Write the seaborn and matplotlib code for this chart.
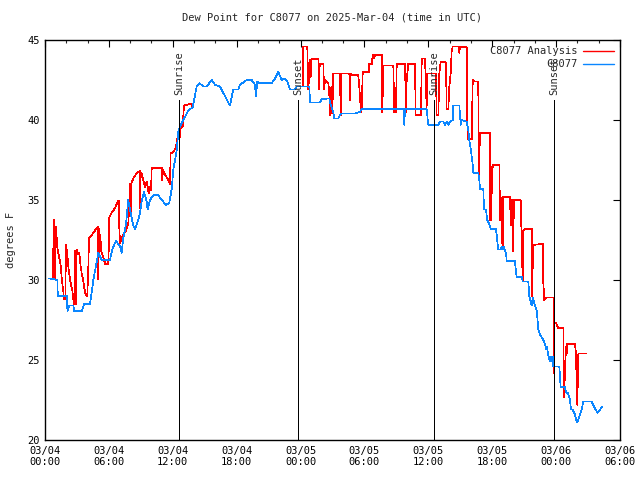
import matplotlib
matplotlib.use("Agg")
import matplotlib.pyplot as plt
import seaborn as sns
import pandas as pd

# ---------------- data (hours since 03/04 00:00 UTC, deg F) ----------------
obs_hours = [0.40, 1.16, 1.20, 2.04, 2.11, 2.28, 2.66, 2.75, 3.45, 3.69, 4.23, 4.54, 4.79, 5.01,
             5.32, 6.10, 6.36, 6.67, 7.04, 7.20, 7.35, 7.61, 7.82, 7.98, 8.29, 8.45, 8.76, 8.92,
             9.08, 9.30, 9.55, 9.64, 9.86, 10.17, 10.64, 10.96, 11.36, 11.67, 11.90, 12.05, 12.21,
             12.37, 12.52, 12.68, 12.99, 13.46, 13.87, 14.25, 14.49, 14.87, 15.19, 15.65, 15.97,
             16.43, 17.37, 17.68, 18.15, 18.31, 18.94, 19.41, 19.72, 19.81, 19.94, 20.12, 21.29,
             21.60, 21.91, 22.23, 22.54, 22.75, 23.01, 23.48, 23.64, 24.82, 24.89, 25.82, 25.98,
             26.70, 26.76, 27.07, 27.17, 27.54, 27.70, 27.86, 29.11, 29.58, 29.74, 33.65, 33.74,
             33.81, 35.84, 35.99, 36.93, 37.09, 37.40, 37.56, 37.72, 37.87, 38.03, 38.29, 38.34,
             38.91, 38.97, 39.04, 39.13, 39.60, 39.75, 39.85, 39.98, 40.07, 40.17, 40.22, 40.69,
             40.79, 40.85, 41.16, 41.23, 41.42, 41.48, 41.54, 41.73, 41.86, 42.33, 42.42, 42.51,
             42.57, 42.80, 42.89, 43.01, 43.10, 43.20, 43.29, 43.36, 44.14, 44.20, 44.30, 44.77,
             44.86, 45.39, 45.48, 45.61, 45.71, 45.80, 46.02, 46.18, 46.33, 46.49, 46.80, 46.96,
             47.05, 47.14, 47.26, 47.42, 47.49, 47.61, 47.68, 47.73, 48.30, 48.36, 48.43, 48.83,
             48.93, 49.14, 49.30, 49.40, 49.56, 49.77, 49.93, 50.08, 50.24, 50.40, 50.55, 51.34,
             51.56, 51.87, 52.12, 52.37]
obs_values = [30.1, 30.0, 29.0, 29.0, 28.06, 28.4, 28.4, 28.06, 28.06, 28.5, 28.5, 30.0, 30.9, 31.7,
              31.25, 31.25, 32.0, 32.45, 32.1, 31.7, 32.6, 33.5, 35.0, 34.4, 33.4, 33.2, 33.75, 34.2,
              34.9, 35.5, 34.9, 34.4, 35.0, 35.3, 35.3, 35.0, 34.7, 34.8, 35.7, 36.9, 37.5,
              38.1, 39.3, 39.6, 40.0, 40.6, 40.8, 42.1, 42.3, 42.1, 42.1, 42.5, 42.2,
              42.1, 40.9, 41.9, 41.9, 42.2, 42.5, 42.5, 42.2, 41.5, 42.4, 42.3, 42.3,
              42.6, 43.0, 42.5, 42.6, 42.4, 41.9, 41.9, 42.1, 42.1, 41.1, 41.1, 41.3,
              41.35, 41.1, 40.5, 40.1, 40.1, 40.3, 40.4, 40.4, 40.5, 40.7, 40.7, 39.7,
              40.7, 40.7, 39.7, 39.7, 39.9, 39.9, 39.7, 39.9, 39.7, 39.9, 40.0, 40.9,
              40.9, 40.3, 39.7, 40.0, 39.9, 39.4, 38.75, 38.2, 37.7, 37.2, 36.7, 36.7,
              36.25, 35.7, 35.7, 34.4, 34.4, 34.0, 33.75, 33.5, 33.2, 33.2, 32.8, 32.2,
              31.9, 31.9, 32.1, 31.9, 32.1, 31.8, 31.7, 31.2, 31.2, 30.7, 30.2, 30.2,
              29.9, 29.9, 29.0, 28.6, 28.4, 28.9, 28.4, 28.1, 26.9, 26.6, 26.25, 26.0,
              25.7, 25.85, 25.3, 24.9, 25.2, 24.95, 25.2, 24.6, 24.6, 23.95, 23.3, 23.3,
              23.0, 22.9, 22.5, 21.9, 21.9, 21.6, 21.1, 21.25, 21.6, 21.9, 22.4, 22.4,
              22.1, 21.7, 21.9, 22.1]

ana_hours = [0.72, 0.78, 0.78, 0.87, 0.94, 1.03, 1.16, 1.31, 1.47, 1.60, 1.72, 1.78, 1.91, 1.97,
             2.09, 2.23, 2.35, 2.47, 2.56, 2.66, 2.75, 2.82, 2.88, 2.98, 3.13, 3.22, 3.32, 3.45,
             3.57, 3.69, 3.82, 3.97, 4.07, 4.13, 4.39, 4.70, 4.91, 4.98, 5.01, 5.07, 5.10, 5.19,
             5.29, 5.48, 5.66, 5.94, 6.01, 6.04, 6.26, 6.57, 6.88, 6.95, 6.96, 7.04, 7.20, 7.42,
             7.61, 7.82, 7.92, 7.98, 8.05, 8.10, 8.29, 8.61, 8.86, 8.92, 8.94, 8.99, 9.08, 9.23,
             9.39, 9.55, 9.70, 9.73, 9.86, 9.96, 10.02, 10.96, 11.02, 11.08, 11.27, 11.58, 11.74,
             11.80, 12.05, 12.21, 12.30, 12.42, 12.68, 12.74, 12.93, 12.99, 13.05, 13.55, 13.78,
             13.87, 14.25, 14.49, 14.87, 15.19, 15.65, 15.97, 16.43, 17.37, 17.68, 18.15, 18.31,
             18.94, 19.41, 19.72, 19.81, 19.94, 20.12, 21.29, 21.60, 21.91, 22.23, 22.54, 22.75,
             23.01, 23.48, 23.64, 24.20,
             24.26, 24.63, 24.73, 24.82, 24.89, 24.95, 25.01, 25.67, 25.73, 25.80, 26.14, 26.20,
             26.30, 26.61, 26.70, 26.77, 26.83, 26.93, 26.98, 27.08, 27.70, 27.77, 27.86, 28.58,
             28.64, 28.71, 28.90, 29.42, 29.49, 29.65, 29.68, 29.74, 29.84, 30.43, 30.46, 30.68,
             30.78, 30.90, 30.99, 31.62, 31.68, 31.77, 32.71, 32.80, 32.96, 33.03, 33.81, 33.90,
             33.97, 34.03, 34.12, 34.75, 34.81, 35.31, 35.38, 35.69, 35.78, 35.84, 35.90, 36.72,
             36.78, 36.94, 37.03, 37.16, 37.66, 37.72, 37.88, 37.97, 38.10, 38.19, 38.29, 38.81,
             38.91, 38.97, 39.60, 39.66, 39.75, 40.07, 40.17, 40.38, 40.69, 40.74, 40.79, 40.85,
             41.79, 41.82, 41.86, 41.89, 41.95, 42.05, 42.67, 42.73, 42.79, 42.89, 42.98, 43.04,
             43.67, 43.74, 43.83, 43.89, 43.95, 44.05, 44.67, 44.77, 44.86, 44.92, 45.08, 45.71,
             45.74, 45.80, 45.86, 46.74, 46.80, 46.89, 47.05, 47.74, 47.80, 47.83, 47.99, 48.21,
             48.68, 48.74, 48.84, 48.93, 48.99, 49.05, 49.77, 49.86, 49.99, 50.09, 50.87]
ana_values = [30.05, 30.05, 31.9, 33.75, 30.05, 33.3, 32.0, 31.5, 30.9, 29.9, 29.3, 28.8, 28.8, 32.2,
              31.6, 30.6, 30.05, 29.6, 29.4, 28.8, 28.5, 31.8, 28.5, 31.9, 31.6, 31.7, 31.0, 30.4,
              30.05, 29.5, 29.05, 29.0, 30.8, 32.6, 32.8, 33.1, 33.3, 33.3, 30.05, 33.2, 31.8, 32.8,
              31.8, 31.4, 31.0, 31.0, 32.4, 33.9, 34.2, 34.5, 34.95, 34.95, 33.6, 32.3, 32.6, 32.9,
              33.1, 33.5, 34.7, 36.0, 34.1, 36.0, 36.35, 36.67, 36.8, 36.8, 34.5, 36.67, 36.67, 36.25,
              35.8, 36.15, 35.6, 35.4, 35.8, 35.6, 37.0, 37.0, 36.25, 36.9, 36.6, 36.25, 36.0,
              37.9, 38.0, 38.2, 38.3, 38.85, 38.95, 39.5, 39.6, 40.3, 40.9, 41.0, 41.0,
              40.8, 42.1, 42.3, 42.1, 42.1, 42.5, 42.2, 42.1, 40.9, 41.9, 41.9, 42.2,
              42.5, 42.5, 42.2, 41.5, 42.4, 42.3, 42.3, 42.6, 43.0, 42.5, 42.6, 42.4,
              41.9, 41.9, 42.1, 42.1,
              44.6, 44.6, 41.9, 42.9, 43.75, 42.7, 43.8, 43.8, 41.9, 43.5, 43.5, 41.9,
              42.5, 42.3, 41.6, 40.3, 41.9, 42.1, 40.4, 42.9, 42.9, 40.3, 42.9, 42.9,
              41.25, 42.9, 42.8, 42.8, 42.3, 40.8, 40.5, 40.7, 43.0, 43.0, 43.5, 43.5,
              44.06, 43.85, 44.06, 44.06, 40.5, 43.4, 43.4, 40.5, 40.5, 43.5, 43.5, 40.5,
              42.6, 42.9, 43.5, 43.5, 40.3, 40.3, 43.85, 43.85, 41.9, 40.8, 42.9, 42.9,
              40.3, 40.3, 42.9, 43.65, 43.6, 40.7, 40.7, 42.1, 42.9, 44.27, 44.6, 44.6,
              44.2, 44.55, 44.55, 39.9, 38.8, 38.8, 42.5, 42.4, 42.4, 36.25, 37.5, 39.2,
              39.2, 33.75, 37.1, 33.75, 35.5, 37.2, 37.2, 33.75, 35.2, 33.1, 31.9, 35.2,
              35.2, 33.44, 33.44, 35.0, 31.8, 35.0, 35.0, 32.5, 29.9, 33.1, 33.2, 33.2,
              29.0, 30.8, 32.2, 32.25, 29.8, 28.75, 28.9, 28.9, 24.2, 27.3, 27.3, 27.0,
              27.0, 22.7, 24.4, 25.8, 25.4, 26.0, 26.0, 25.4, 22.2, 25.4, 25.4]

sun_hours = [12.58, 23.76, 36.53, 47.80]
sun_labels = ["Sunrise", "Sunset", "Sunrise", "Sunset"]
sun_top = 41.25

tick_hours = [0, 6, 12, 18, 24, 30, 36, 42, 48, 54]
tick_labels = ["03/04\n00:00", "03/04\n06:00", "03/04\n12:00", "03/04\n18:00",
               "03/05\n00:00", "03/05\n06:00", "03/05\n12:00", "03/05\n18:00",
               "03/06\n00:00", "03/06\n06:00"]

# ---------------- plotting ----------------
sns.set_style("white")
plt.rcParams['font.family'] = ['DejaVu Sans Mono']
FS = 7.5
LW = 0.5

fig = plt.figure(figsize=(6.4, 4.8), dpi=100)
ax = fig.add_axes([45/640, 40/480, 575/640, 400/480])

ana_df = pd.DataFrame({"hour": ana_hours, "dewpoint": ana_values})
obs_df = pd.DataFrame({"hour": obs_hours, "dewpoint": obs_values})

sns.lineplot(data=ana_df, x="hour", y="dewpoint", estimator=None, sort=False,
             color="#ff0000", linewidth=LW, ax=ax, label="C8077 Analysis",
             antialiased=False)
sns.lineplot(data=obs_df, x="hour", y="dewpoint", estimator=None, sort=False,
             color="#0a86ff", linewidth=LW, ax=ax, label="C8077",
             antialiased=False)

ax.vlines(sun_hours, 20, sun_top, color="black", linewidth=0.72, antialiased=False)
for h, lab in zip(sun_hours, sun_labels):
    ax.text(h, sun_top + 0.3, lab, rotation=90, ha="center", va="bottom", fontsize=FS)

ax.set_xlim(0, 54)
ax.set_ylim(20, 45)
ax.set_xticks(tick_hours)
ax.set_xticklabels(tick_labels, fontsize=FS)
ax.set_xticks(list(range(0, 55, 2)), minor=True)
ax.set_yticks([20, 25, 30, 35, 40, 45])
ax.set_yticklabels(["20", "25", "30", "35", "40", "45"], fontsize=FS)
ax.tick_params(axis="both", which="major", direction="in", length=5, width=0.8,
               top=True, right=True, colors="black", pad=4)
ax.tick_params(axis="x", which="minor", direction="in", length=2.5, width=0.8, top=True)
for s in ax.spines.values():
    s.set_color("black")
    s.set_linewidth(1.0)

ax.set_xlabel("")
ax.set_ylabel("degrees F", fontsize=FS, labelpad=8)
ax.set_title("Dew Point for C8077 on 2025-Mar-04 (time in UTC)", fontsize=FS, pad=14)

leg = ax.legend(loc="upper right", frameon=False, markerfirst=False, fontsize=FS,
                handlelength=3.0, handletextpad=0.5, labelspacing=0.3,
                borderaxespad=0.2)
for line in leg.get_lines():
    line.set_linewidth(1.0)

fig.savefig("out.png", dpi=100)
